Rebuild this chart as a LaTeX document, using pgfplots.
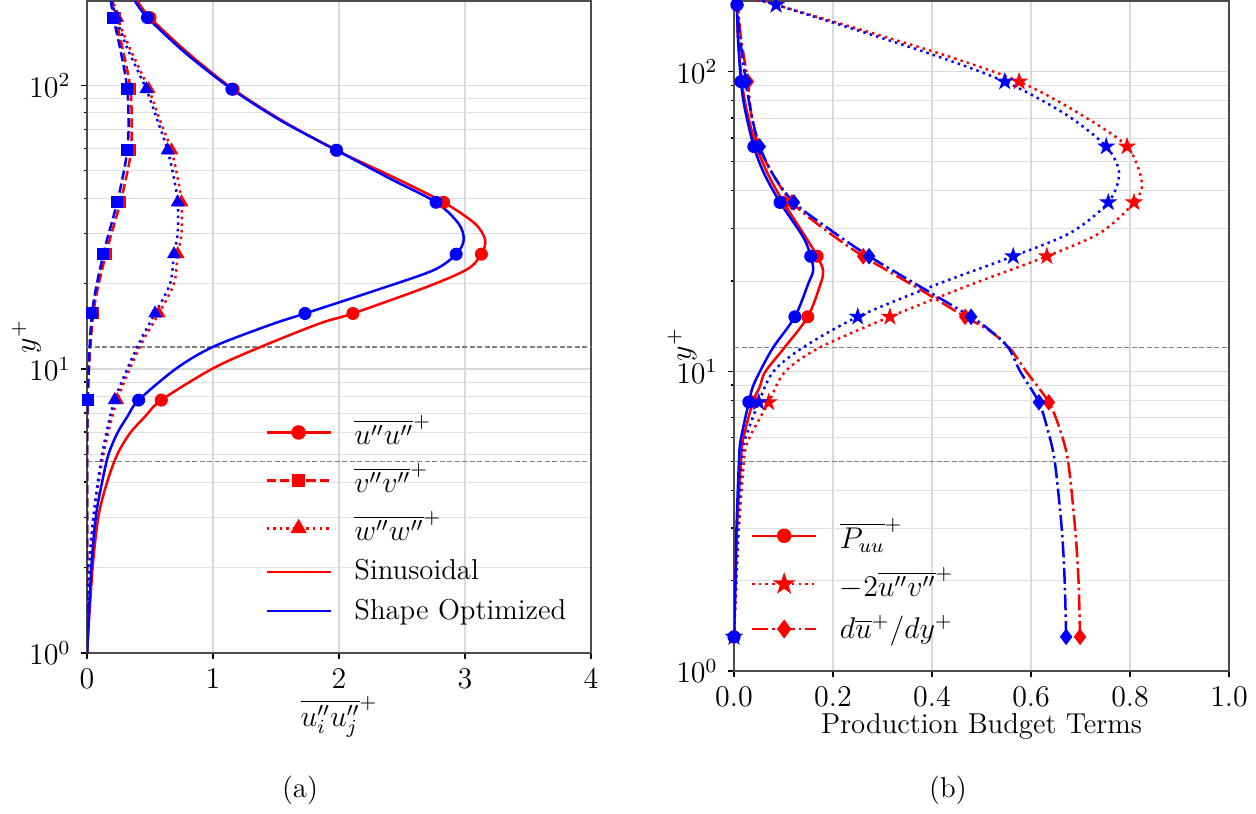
\documentclass[12pt,border=0pt]{standalone}
\usepackage{fontspec}
\usepackage{pgfplots}
\pgfplotsset{compat=1.18}
\usetikzlibrary{plotmarks}
\pgfdeclareplotmark{fstar}{%
  \pgfpathmoveto{\pgfqpoint{0pt}{\pgfplotmarksize}}%
  \pgfpathlineto{\pgfqpoint{-0.2245\pgfplotmarksize}{0.309\pgfplotmarksize}}%
  \pgfpathlineto{\pgfqpoint{-0.951\pgfplotmarksize}{0.309\pgfplotmarksize}}%
  \pgfpathlineto{\pgfqpoint{-0.363\pgfplotmarksize}{-0.118\pgfplotmarksize}}%
  \pgfpathlineto{\pgfqpoint{-0.588\pgfplotmarksize}{-0.809\pgfplotmarksize}}%
  \pgfpathlineto{\pgfqpoint{0pt}{-0.382\pgfplotmarksize}}%
  \pgfpathlineto{\pgfqpoint{0.588\pgfplotmarksize}{-0.809\pgfplotmarksize}}%
  \pgfpathlineto{\pgfqpoint{0.363\pgfplotmarksize}{-0.118\pgfplotmarksize}}%
  \pgfpathlineto{\pgfqpoint{0.951\pgfplotmarksize}{0.309\pgfplotmarksize}}%
  \pgfpathlineto{\pgfqpoint{0.2245\pgfplotmarksize}{0.309\pgfplotmarksize}}%
  \pgfpathclose\pgfusepathqfillstroke}
\newcommand{\ft}{\fontsize{11.5}{13.8}\selectfont}
\tikzset{
  mpdash/.style={dash pattern=on 3.7pt off 1.6pt},
  mpdot/.style={dash pattern=on 1pt off 1.65pt},
  mpdashdot/.style={dash pattern=on 6.4pt off 1.6pt on 1pt off 1.6pt},
  myln/.style={line width=1pt},
  hline/.style={gray, line width=0.5pt, dash pattern=on 2pt off 1pt},
}
\pgfplotsset{
  every axis/.append style={
    scale only axis,
    grid=both,
    major grid style={gray!30, line width=0.5pt},
    minor grid style={gray!25, line width=0.4pt},
    tick align=outside, major tick length=2.4pt, minor tick length=1.4pt,
    tick style={black, line width=0.5pt},
    axis line style={black!70, line width=0.8pt},
    tick label style={font=\ft},
    label style={font=\ft},
    legend style={draw=none, fill=none, font=\ft,
      cells={anchor=west}, row sep=1.8pt, column sep=7pt},
    legend image code/.code={\draw[mark repeat=2,mark phase=2]
      plot coordinates {(0cm,0cm) (0.45cm,0cm) (0.9cm,0cm)};},
  },
}
\begin{document}
\begin{tikzpicture}
\path[use as bounding box] (0,0) rectangle (502.4pt,-325.6pt);
% ---------------- (a) ----------------
\begin{axis}[
  ymode=log,
  ytick={1,10,100}, minor ytick={2,3,4,5,6,7,8,9,20,30,40,50,60,70,80,90},
  xtick pos=left, ytick pos=left,
  at={(34.8pt,-261.2pt)}, anchor=south west,
  width=201.6pt, height=260.8pt,
  xmin=0, xmax=4, ymin=1, ymax=198, xtick={0,1,2,3,4},
  xlabel={$\overline{u_i''u_j''}^{+}$},
  ylabel={$y^{+}$},
  xlabel style={at={(axis description cs:0.5,-0.098)}, anchor=center},
  ylabel style={at={(axis description cs:-0.12,0.485)}, anchor=center},
  legend style={at={(0.338,0.380)}, anchor=north west},
]
\addplot[hline, forget plot] coordinates {(0,11.96) (4,11.96)};
\addplot[hline, forget plot] coordinates {(0,4.74) (4,4.74)};
% red (Sinusoidal)
\addplot[red, myln, smooth, no marks, forget plot] coordinates {(0,1) (0.01,1.18) (0.045,2.01) (0.09,3.02) (0.16,4) (0.24,5) (0.34,5.94) (0.46,6.8) (0.59,7.78) (1.0,10.06) (1.38,11.98) (1.85,14.5) (2.11,15.7) (2.7,19.5) (3.02,22.5) (3.13,25.4) (3.16,28.5) (3.08,32.5) (2.83,38.7) (2.45,47) (1.98,59) (1.55,75) (1.16,96.8) (0.8,130) (0.5,173) (0.4,198)};
\addplot[red, myln, mpdash, smooth, no marks, forget plot] coordinates {(0,1) (0.001,3) (0.006,7.78) (0.05,15.7) (0.15,25.4) (0.265,38.7) (0.34,55) (0.355,70) (0.345,96.8) (0.29,130) (0.225,173) (0.20,198)};
\addplot[red, myln, mpdot, smooth, no marks, forget plot] coordinates {(0,1) (0.02,2) (0.055,3) (0.13,5) (0.24,7.78) (0.42,12) (0.57,15.7) (0.69,20) (0.72,25.4) (0.75,30) (0.75,38.7) (0.72,47) (0.67,59) (0.58,75) (0.49,96.8) (0.34,135) (0.24,173) (0.21,198)};
\addplot[red, only marks, mark=*, mark size=2.4pt, forget plot] coordinates {(0.59,7.78) (2.11,15.7) (3.13,25.4) (2.83,38.7) (1.98,59) (1.16,96.8) (0.5,173)};
\addplot[red, only marks, mark=square*, mark size=2.2pt, forget plot] coordinates {(0.006,7.78) (0.05,15.7) (0.15,25.4) (0.265,38.7) (0.345,59) (0.345,96.8) (0.225,173)};
\addplot[red, only marks, mark=triangle*, mark size=2.8pt, forget plot] coordinates {(0.24,7.78) (0.57,15.7) (0.72,25.4) (0.75,38.7) (0.67,59) (0.49,96.8) (0.24,173)};
% blue (Shape optimized)
\addplot[blue, myln, smooth, no marks, forget plot] coordinates {(0,1) (0.008,1.18) (0.035,2.01) (0.07,3.02) (0.12,4) (0.17,5) (0.24,5.94) (0.32,6.8) (0.41,7.78) (0.71,10.06) (1.0,11.98) (1.45,14.3) (1.73,15.7) (2.3,19) (2.75,22.3) (2.93,25.4) (2.99,28.5) (2.95,32.5) (2.77,38.7) (2.4,47) (1.98,59) (1.54,75) (1.15,96.8) (0.78,130) (0.48,173) (0.38,198)};
\addplot[blue, myln, mpdash, smooth, no marks, forget plot] coordinates {(0,1) (0.001,3) (0.005,7.78) (0.04,15.7) (0.13,25.4) (0.24,38.7) (0.31,55) (0.33,70) (0.32,96.8) (0.27,130) (0.21,173) (0.19,198)};
\addplot[blue, myln, mpdot, smooth, no marks, forget plot] coordinates {(0,1) (0.018,2) (0.05,3) (0.12,5) (0.22,7.78) (0.40,12) (0.54,15.7) (0.66,20) (0.69,25.4) (0.72,30) (0.72,38.7) (0.69,47) (0.64,59) (0.56,75) (0.47,96.8) (0.32,135) (0.23,173) (0.2,198)};
\addplot[blue, only marks, mark=*, mark size=2.4pt, forget plot] coordinates {(0.41,7.78) (1.73,15.7) (2.93,25.4) (2.77,38.7) (1.98,59) (1.15,96.8) (0.48,173)};
\addplot[blue, only marks, mark=square*, mark size=2.2pt, forget plot] coordinates {(0.005,7.78) (0.04,15.7) (0.13,25.4) (0.24,38.7) (0.32,59) (0.32,96.8) (0.21,173)};
\addplot[blue, only marks, mark=triangle*, mark size=2.8pt, forget plot] coordinates {(0.22,7.78) (0.54,15.7) (0.69,25.4) (0.72,38.7) (0.64,59) (0.47,96.8) (0.23,173)};
\addlegendimage{red, line width=1pt, mark=*, mark size=2.4pt}
\addlegendentry{$\overline{u''u''}^{+}$}
\addlegendimage{red, line width=1pt, mpdash, mark=square*, mark size=2.2pt, mark options={solid}}
\addlegendentry{$\overline{v''v''}^{+}$}
\addlegendimage{red, line width=1pt, mpdot, mark=triangle*, mark size=2.8pt, mark options={solid}}
\addlegendentry{$\overline{w''w''}^{+}$}
\addlegendimage{red, line width=0.8pt}
\addlegendentry{Sinusoidal}
\addlegendimage{blue, line width=0.8pt}
\addlegendentry{Shape Optimized}
\end{axis}
% ---------------- (b) ----------------
\begin{axis}[
  ymode=log,
  ytick={1,10,100}, minor ytick={2,3,4,5,6,7,8,9,20,30,40,50,60,70,80,90},
  xtick pos=left, ytick pos=left,
  at={(293.6pt,-268.4pt)}, anchor=south west,
  width=198pt, height=268pt,
  xmin=0, xmax=1, ymin=1, ymax=172, xtick={0,0.2,0.4,0.6,0.8,1.0},
  xticklabel style={/pgf/number format/fixed, /pgf/number format/fixed zerofill, /pgf/number format/precision=1},
  xlabel={Production Budget Terms},
  ylabel={$y^{+}$},
  xlabel style={at={(axis description cs:0.5,-0.083)}, anchor=center},
  ylabel style={at={(axis description cs:-0.105,0.487)}, anchor=center},
  legend style={at={(0.018,0.243)}, anchor=north west},
]
\addplot[hline, forget plot] coordinates {(0,12.02) (1,12.02)};
\addplot[hline, forget plot] coordinates {(0,5.01) (1,5.01)};
% red
\addplot[red, myln, smooth, no marks, forget plot] coordinates {(0,1.3) (0.003,2) (0.006,3) (0.014,5) (0.018,5.9) (0.038,7.9) (0.052,8.87) (0.063,9.96) (0.102,12) (0.149,15.2) (0.175,19.6) (0.18,21.7) (0.168,24.2) (0.145,28) (0.1,36.6) (0.07,45) (0.045,56.2) (0.025,75) (0.016,92.6) (0.008,130) (0.006,167)};
\addplot[red, myln, mpdot, smooth, no marks, forget plot] coordinates {(0,1.3) (0.005,2) (0.01,3) (0.02,5) (0.029,5.9) (0.07,7.88) (0.103,9.96) (0.173,12) (0.315,15.2) (0.48,19.5) (0.632,24.2) (0.74,29) (0.808,36.6) (0.824,42.7) (0.794,56.2) (0.7,72) (0.576,92.6) (0.40,117) (0.085,167) (0.05,172)};
\addplot[red, myln, mpdashdot, smooth, no marks, forget plot] coordinates {(0.699,1.3) (0.696,2) (0.689,3) (0.675,5) (0.659,6.35) (0.636,7.88) (0.59,10) (0.556,12) (0.515,13.7) (0.467,15.2) (0.37,19) (0.261,24.2) (0.18,30) (0.117,36.6) (0.08,45) (0.05,56.2) (0.035,72) (0.028,92.6) (0.014,130) (0.008,167)};
\addplot[red, only marks, mark=*, mark size=2.4pt, forget plot] coordinates {(0,1.3) (0.038,7.9) (0.149,15.2) (0.168,24.2) (0.1,36.6) (0.045,56.2) (0.016,92.6) (0.006,167)};
\addplot[red, only marks, mark=fstar, mark size=3.2pt, forget plot] coordinates {(0,1.3) (0.07,7.88) (0.315,15.2) (0.632,24.2) (0.808,36.6) (0.794,56.2) (0.576,92.6) (0.085,167)};
\addplot[red, only marks, mark=diamond*, mark size=3pt, forget plot] coordinates {(0.699,1.3) (0.636,7.88) (0.467,15.2) (0.261,24.2) (0.117,36.6) (0.05,56.2) (0.028,92.6) (0.008,167)};
% blue
\addplot[blue, myln, smooth, no marks, forget plot] coordinates {(0,1.3) (0.003,2) (0.005,3) (0.010,5) (0.0135,5.9) (0.03,7.9) (0.038,8.87) (0.052,9.96) (0.079,12) (0.123,15.2) (0.15,19.6) (0.16,21.7) (0.155,24.2) (0.14,28) (0.093,36.6) (0.06,46) (0.04,56.2) (0.022,75) (0.014,92.6) (0.008,130) (0.006,167)};
\addplot[blue, myln, mpdot, smooth, no marks, forget plot] coordinates {(0,1.3) (0.004,2) (0.008,3) (0.015,5) (0.022,5.9) (0.05,7.88) (0.079,9.96) (0.139,12) (0.25,15.2) (0.41,19.5) (0.564,24.2) (0.68,29) (0.756,36.6) (0.778,45.7) (0.752,56.2) (0.67,72) (0.547,92.6) (0.38,117) (0.085,167) (0.05,172)};
\addplot[blue, myln, mpdashdot, smooth, no marks, forget plot] coordinates {(0.671,1.3) (0.668,2) (0.662,3) (0.648,5) (0.634,6.35) (0.616,7.88) (0.578,10) (0.554,12) (0.517,13.7) (0.479,15.2) (0.38,19) (0.273,24.2) (0.19,30) (0.121,36.6) (0.08,45) (0.052,56.2) (0.035,72) (0.024,92.6) (0.012,130) (0.006,167)};
\addplot[blue, only marks, mark=*, mark size=2.4pt, forget plot] coordinates {(0,1.3) (0.03,7.9) (0.123,15.2) (0.155,24.2) (0.093,36.6) (0.04,56.2) (0.014,92.6) (0.006,167)};
\addplot[blue, only marks, mark=fstar, mark size=3.2pt, forget plot] coordinates {(0,1.3) (0.05,7.88) (0.25,15.2) (0.564,24.2) (0.756,36.6) (0.752,56.2) (0.547,92.6) (0.085,167)};
\addplot[blue, only marks, mark=diamond*, mark size=3pt, forget plot] coordinates {(0.671,1.3) (0.616,7.88) (0.479,15.2) (0.273,24.2) (0.121,36.6) (0.052,56.2) (0.024,92.6) (0.006,167)};
\addlegendimage{red, line width=1pt, mark=*, mark size=2.4pt}
\addlegendentry{$\overline{P_{uu}}^{+}$}
\addlegendimage{red, line width=1pt, mpdot, mark=fstar, mark size=3.2pt, mark options={solid}}
\addlegendentry{$-2\overline{u''v''}^{+}$}
\addlegendimage{red, line width=1pt, mpdashdot, mark=diamond*, mark size=3pt, mark options={solid}}
\addlegendentry{$d\overline{u}^{+}/dy^{+}$}
\end{axis}
\node[font=\ft] at (120pt,-316pt) {(a)};
\node[font=\ft] at (379.2pt,-316pt) {(b)};
\end{tikzpicture}
\end{document}
